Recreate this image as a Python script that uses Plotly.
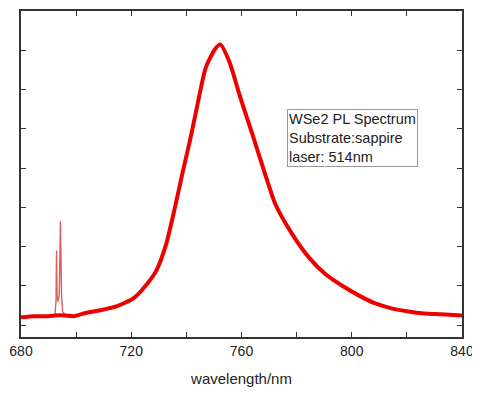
import plotly.graph_objects as go

# main PL band
wavelength = [680.0, 684.7, 690.1, 692.3, 696.1, 699.1,
              702.7, 708.7, 714.6, 720.7, 724.3, 729.1, 732.7, 735.7, 738.7, 741.2, 743.4,
              747.0, 750.3, 752.3, 755.7, 759.3, 764.0, 768.6, 772.3, 778.4, 784.5, 790.3,
              796.4, 802.5, 808.3, 814.4, 820.5, 826.3, 832.4, 840.0]
intensity = [0.20, 0.23, 0.23, 0.25, 0.25, 0.23,
             0.30, 0.38, 0.48, 0.68, 0.93, 1.39, 2.07, 2.95, 3.91, 4.67, 5.40,
             6.55, 7.02, 7.15, 6.69, 5.86, 4.85, 3.84, 3.08, 2.32, 1.72, 1.31,
             1.01, 0.76, 0.56, 0.43, 0.35, 0.30, 0.28, 0.25]

# sharp substrate lines near 693-694 nm
spike_wavelength = [692.3, 692.7, 692.9, 693.1, 693.5, 693.9, 694.3, 694.7, 695.1, 696.1]
spike_intensity = [0.25, 0.60, 1.90, 0.70, 0.60, 0.80, 2.65, 0.80, 0.35, 0.25]

x_ticks = [680, 700, 720, 740, 760, 780, 800, 820, 840]
x_labels = ["680", "", "720", "", "760", "", "800", "", "840"]
y_ticks = [0, 1, 2, 3, 4, 5, 6, 7]

fig = go.Figure()
fig.add_trace(go.Scatter(x=spike_wavelength, y=spike_intensity, mode="lines",
                         line=dict(color="#d86060", width=1.4), showlegend=False))
fig.add_trace(go.Scatter(x=wavelength, y=intensity, mode="lines",
                         line=dict(color="#ee0000", width=4, shape="spline", smoothing=0.6),
                         showlegend=False))

axis_common = dict(showline=True, linecolor="#333333", linewidth=1.5, mirror="ticks",
                   ticks="inside", ticklen=5, tickcolor="#333333", tickwidth=1,
                   showgrid=False, zeroline=False)
fig.update_xaxes(range=[680, 840], tickvals=x_ticks, ticktext=x_labels,
                 ticklabeloverflow="allow",
                 tickfont=dict(family="Liberation Sans, Arial", size=14, color="#222222"),
                 title=dict(text="wavelength/nm", standoff=16,
                            font=dict(family="Liberation Sans, Arial", size=15, color="#222222")),
                 **axis_common)
fig.update_yaxes(range=[-0.3, 8.0], tickvals=y_ticks, showticklabels=False, **axis_common)

fig.add_annotation(xref="paper", yref="paper", x=0.603, y=0.70, xanchor="left", yanchor="top",
                   text="WSe2 PL Spectrum<br>Substrate:sappire<br>laser: 514nm",
                   showarrow=False, align="left",
                   font=dict(family="Liberation Sans, Arial", size=14.5, color="#222222"),
                   bordercolor="#999999", borderwidth=1, borderpad=1, bgcolor="white")

# page body adds an 8px offset, so the figure is sized to fit the window
fig.update_layout(width=472, height=388, margin=dict(l=11, r=18, t=1, b=59),
                  paper_bgcolor="white", plot_bgcolor="white")
fig.write_html("out.html")
